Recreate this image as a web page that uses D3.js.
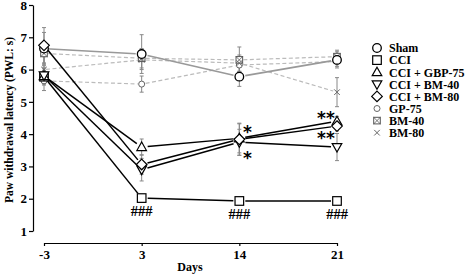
<!DOCTYPE html>
<html>
<head>
<meta charset="utf-8">
<script src="https://cdn.jsdelivr.net/npm/d3@7"></script>
<style>
  body { margin: 0; background: #fff; }
  text { font-family: "Liberation Serif", "Times New Roman", serif; font-weight: bold; }
</style>
</head>
<body>
<div id="chart"></div>
<script>
// Data
const days = ["-3", "3", "14", "21"];
const yTicks = [1, 2, 3, 4, 5, 6, 7, 8];

const shamVals  = [6.65, 6.48, 5.78, 6.30];
const shamErr   = [0.50, 0.60, 0.30, 0.25];
const cciVals   = [5.78, 2.02, 1.93, 1.93];
const cciErr    = [0.20, 0.10, 0.08, 0.05];
const gbpVals   = [5.80, 3.60, 3.87, 4.40];
const gbpErr    = [0.25, 0.25, 0.45, 0.15];
const bm40Vals  = [5.82, 2.90, 3.75, 3.60];
const bm40Err   = [0.30, 0.35, 0.40, 0.42];
const bm80Vals  = [6.75, 3.06, 3.84, 4.25];
const bm80Err   = [0.55, 0.30, 0.50, 0.15];
const gp75Vals  = [5.65, 5.55, 6.14, 6.25];
const gp75Err   = [0.30, 0.25, 0.20, 0.15];
const bm40sVals = [6.50, 6.35, 6.30, 6.40];
const bm40sErr  = [0.30, 0.30, 0.40, 0.20];
const bm80sVals = [6.00, 6.30, 6.20, 5.30];
const bm80sErr  = [0.40, 0.30, 0.25, 0.45];

const series = [
    {name: "Sham",         vals: shamVals,  err: shamErr,  sym: "circle",  line: "sham"},
    {name: "CCI",          vals: cciVals,   err: cciErr,   sym: "square",  line: "black"},
    {name: "CCI + GBP-75", vals: gbpVals,   err: gbpErr,   sym: "triUp",   line: "black"},
    {name: "CCI + BM-40",  vals: bm40Vals,  err: bm40Err,  sym: "triDown", line: "black"},
    {name: "CCI + BM-80",  vals: bm80Vals,  err: bm80Err,  sym: "diamond", line: "black"},
    {name: "GP-75",        vals: gp75Vals,  err: gp75Err,  sym: "smallCircle", line: "dash"},
    {name: "BM-40",        vals: bm40sVals, err: bm40sErr, sym: "boxX",    line: "dash"},
    {name: "BM-80",        vals: bm80sVals, err: bm80sErr, sym: "cross",   line: "dash"}
];

// significance marks
const hashDays = [1, 2, 3];
const starMarks = [
    {day: 2, text: "*",  dx: 8,   dy: -9},
    {day: 2, text: "*",  dx: 8,   dy: 17},
    {day: 3, text: "**", dx: -11, dy: -10},
    {day: 3, text: "**", dx: -11, dy: 10}
];

const W = 472, H = 275;
const svg = d3.select("#chart").append("svg")
    .attr("width", W)
    .attr("height", H);

const x = d3.scalePoint().domain(days).range([44, 337]);
const y = d3.scaleLinear().domain([1, 8]).range([231, 5]);

// Y axis
const yAxis = svg.append("g")
    .attr("transform", "translate(33,0)")
    .call(d3.axisLeft(y).tickValues(yTicks).tickFormat(d3.format("d"))
        .tickSize(4).tickSizeOuter(0).tickPadding(2));
yAxis.select(".domain").attr("stroke", "#000").attr("stroke-width", 1.2);
yAxis.selectAll(".tick line").attr("stroke-width", 1.2);
yAxis.selectAll("text").attr("font-size", 13).attr("fill", "#000")
    .style("font-family", "Liberation Serif").style("font-weight", "bold");

// X axis
const xAxis = svg.append("g")
    .attr("transform", "translate(0,243)")
    .call(d3.axisBottom(x).tickSize(3).tickSizeOuter(0).tickPadding(4));
xAxis.select(".domain").attr("stroke", "#000").attr("stroke-width", 1.2);
xAxis.selectAll(".tick line").attr("stroke-width", 1.2);
xAxis.selectAll("text").attr("font-size", 13).attr("fill", "#000")
    .style("font-family", "Liberation Serif").style("font-weight", "bold");

svg.append("text")
    .attr("x", 190).attr("y", 271)
    .attr("text-anchor", "middle")
    .attr("font-size", 12)
    .text("Days");

svg.append("text")
    .attr("transform", "translate(13,120) rotate(-90)")
    .attr("text-anchor", "middle")
    .attr("font-size", 11.5)
    .text("Paw withdrawal latency (PWL: s)");

// symbol drawing
function drawSymbol(g, sym, cx, cy) {
    if (sym === "circle") {
        g.append("circle").attr("cx", cx).attr("cy", cy).attr("r", 4.3)
            .attr("fill", "#fff").attr("stroke", "#000").attr("stroke-width", 1.3);
    } else if (sym === "smallCircle") {
        g.append("circle").attr("cx", cx).attr("cy", cy).attr("r", 3)
            .attr("fill", "#fff").attr("stroke", "#666").attr("stroke-width", 1);
    } else if (sym === "square") {
        g.append("rect").attr("x", cx - 4.3).attr("y", cy - 4.3).attr("width", 8.6).attr("height", 8.6)
            .attr("fill", "#fff").attr("stroke", "#000").attr("stroke-width", 1.2);
    } else if (sym === "boxX") {
        g.append("rect").attr("x", cx - 3.3).attr("y", cy - 3.3).attr("width", 6.6).attr("height", 6.6)
            .attr("fill", "#fff").attr("stroke", "#555").attr("stroke-width", 1);
        g.append("path").attr("d", `M${cx - 3.3},${cy - 3.3}L${cx + 3.3},${cy + 3.3}M${cx + 3.3},${cy - 3.3}L${cx - 3.3},${cy + 3.3}`)
            .attr("stroke", "#555").attr("stroke-width", 0.8);
    } else if (sym === "cross") {
        g.append("path").attr("d", `M${cx - 2.8},${cy - 2.8}L${cx + 2.8},${cy + 2.8}M${cx + 2.8},${cy - 2.8}L${cx - 2.8},${cy + 2.8}`)
            .attr("stroke", "#666").attr("stroke-width", 1);
    } else if (sym === "triUp") {
        g.append("path").attr("d", `M${cx},${cy - 5}L${cx + 4.8},${cy + 3.5}L${cx - 4.8},${cy + 3.5}Z`)
            .attr("fill", "#fff").attr("stroke", "#000").attr("stroke-width", 1.2);
    } else if (sym === "triDown") {
        g.append("path").attr("d", `M${cx},${cy + 5}L${cx + 4.8},${cy - 3.5}L${cx - 4.8},${cy - 3.5}Z`)
            .attr("fill", "#fff").attr("stroke", "#000").attr("stroke-width", 1.2);
    } else if (sym === "diamond") {
        g.append("path").attr("d", `M${cx},${cy - 5.3}L${cx + 5.3},${cy}L${cx},${cy + 5.3}L${cx - 5.3},${cy}Z`)
            .attr("fill", "#fff").attr("stroke", "#000").attr("stroke-width", 1.2);
    }
}

const lineStyle = {
    sham:  {stroke: "#999", width: 1.6, dash: null},
    black: {stroke: "#000", width: 1.5, dash: null},
    dash:  {stroke: "#bbb", width: 1.2, dash: "4,2.5"}
};

// Connecting lines, shortened to leave gaps near markers
const lineLayer = svg.append("g");
const drawOrder = [5, 6, 7, 0, 1, 2, 3, 4];
drawOrder.forEach(i => {
    const s = series[i];
    const st = lineStyle[s.line];
    const gap = s.line === "dash" ? 4 : 6;
    for (let k = 0; k < days.length - 1; k++) {
        const x1 = x(days[k]), y1 = y(s.vals[k]);
        const x2 = x(days[k + 1]), y2 = y(s.vals[k + 1]);
        const len = Math.hypot(x2 - x1, y2 - y1);
        const ux = (x2 - x1) / len, uy = (y2 - y1) / len;
        lineLayer.append("line")
            .attr("x1", x1 + ux * (k === 0 ? 2 : gap)).attr("y1", y1 + uy * (k === 0 ? 2 : gap))
            .attr("x2", x2 - ux * gap).attr("y2", y2 - uy * gap)
            .attr("stroke", st.stroke)
            .attr("stroke-width", st.width)
            .attr("stroke-dasharray", st.dash);
    }
});

// Error bars
const errLayer = svg.append("g");
series.forEach(s => {
    s.vals.forEach((v, k) => {
        const cx = x(days[k]);
        const top = y(v + s.err[k]), bot = y(v - s.err[k]);
        errLayer.append("line")
            .attr("x1", cx).attr("x2", cx).attr("y1", top).attr("y2", bot)
            .attr("stroke", "#888").attr("stroke-width", 1);
        [top, bot].forEach(yy => errLayer.append("line")
            .attr("x1", cx - 2).attr("x2", cx + 2).attr("y1", yy).attr("y2", yy)
            .attr("stroke", "#888").attr("stroke-width", 1));
    });
});

// Markers
const markLayer = svg.append("g");
drawOrder.forEach(i => {
    const s = series[i];
    s.vals.forEach((v, k) => drawSymbol(markLayer, s.sym, x(days[k]), y(v)));
});

// Significance annotations
hashDays.forEach(k => {
    svg.append("text")
        .attr("x", x(days[k])).attr("y", y(cciVals[k]) + 18)
        .attr("text-anchor", "middle")
        .attr("font-size", 14.5)
        .text("###");
});
starMarks.forEach(m => {
    svg.append("text")
        .attr("x", x(days[m.day]) + m.dx)
        .attr("y", y(bm80Vals[m.day]) + m.dy + 8)
        .attr("text-anchor", "middle")
        .attr("font-size", 17)
        .style("font-family", "DejaVu Sans")
        .style("font-weight", "bold")
        .text(m.text);
});

// Legend
const legend = svg.append("g").attr("transform", "translate(377,48)");
series.forEach((s, i) => {
    const ly = i * 12.1;
    drawSymbol(legend, s.sym, 0, ly);
    legend.append("text")
        .attr("x", 12).attr("y", ly + 4.3)
        .attr("font-size", 12)
        .text(s.name);
});
</script>
</body>
</html>
